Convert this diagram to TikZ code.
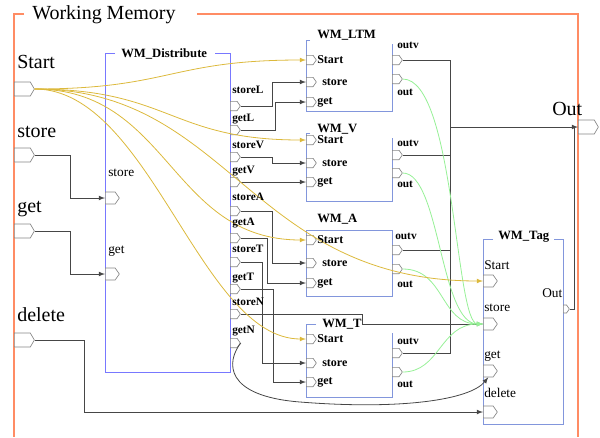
\documentclass[tikz,border=0pt]{standalone}
\usepackage{fontspec}
\setmainfont{Liberation Serif}
\usepackage{tikz}
\usetikzlibrary{shapes.symbols}
\definecolor{framecol}{RGB}{255,140,100}
\definecolor{distcol}{RGB}{120,120,255}
\definecolor{modcol}{RGB}{130,150,220}
\definecolor{portcol}{RGB}{135,135,135}
\definecolor{wirecol}{RGB}{70,70,70}
\definecolor{startcol}{RGB}{220,185,60}
\definecolor{outcol}{RGB}{150,240,150}

\begin{document}
\begin{tikzpicture}[x=0.75pt, y=-0.75pt, >=latex,
    port/.style={signal, signal to=east, signal pointer angle=110, draw=portcol, fill=white, line width=0.5pt, inner sep=0pt, minimum width=7.5pt, minimum height=7pt, anchor=west},
    midport/.style={port, minimum width=10.5pt, minimum height=9pt},
    bigport/.style={port, signal pointer angle=120, minimum width=15pt, minimum height=10.5pt},
    tinyport/.style={port, minimum width=4.5pt, minimum height=6pt},
    wire/.style={draw=wirecol, line width=0.6pt},
    startwire/.style={draw=startcol, line width=0.6pt},
    outwire/.style={draw=outcol, line width=0.6pt},
    biglbl/.style={font=\fontsize{15}{18}\selectfont, anchor=base west, inner sep=0pt},
    lbl/.style={font=\fontsize{10}{12}\selectfont, anchor=base west, inner sep=0pt},
    plbl/.style={font=\bfseries\fontsize{8.5}{10}\selectfont, anchor=base west, inner sep=0pt},
    mlbl/.style={font=\bfseries\fontsize{9}{10}\selectfont, anchor=west, inner sep=0pt},
    ttl/.style={font=\bfseries\fontsize{9.5}{11}\selectfont, anchor=base west, inner sep=0pt}]
    \useasboundingbox (0,0) rectangle (600,437);

    \draw[framecol, line width=0.8pt] (24,14) -- (14,14) -- (14,437);
    \draw[framecol, line width=0.8pt] (197,14) -- (578,14) -- (578,437);
    \draw[distcol, line width=0.7pt] (115,53) -- (105,53) -- (105,372) -- (230,372) -- (230,53) -- (215,53);
    \draw[modcol, line width=0.7pt] (310,40) -- (306,40) -- (306,111) -- (392,111) -- (392,44);
    \draw[modcol, line width=0.7pt] (310,133) -- (306,133) -- (306,201) -- (392,201) -- (392,138);
    \draw[modcol, line width=0.7pt] (306,230) rectangle (392,296);
    \draw[modcol, line width=0.7pt] (316,324) -- (306,324) -- (306,397) -- (392,397) -- (392,333);
    \draw[modcol, line width=0.7pt] (493,239) -- (483,239) -- (483,424) -- (563,424) -- (563,239) -- (554,239);

    \node[bigport] (start) at (14,89) {};
    \node[bigport] (store) at (14,155) {};
    \node[bigport] (get) at (14,231) {};
    \node[bigport] (delete) at (14,340) {};
    \node[bigport] (out) at (578,127) {};

    \node[midport] (distStore) at (105,198) {};
    \node[midport] (distGet) at (105,274) {};
    \node[port] (storeL) at (230,106) {};
    \node[port] (getL) at (230,130) {};
    \node[port] (storeV) at (230,157) {};
    \node[port] (getV) at (230,182) {};
    \node[port] (storeA) at (230,211) {};
    \node[port] (getA) at (230,238) {};
    \node[port] (storeT) at (230,262) {};
    \node[port] (getT) at (230,289) {};
    \node[port] (storeN) at (230,314) {};
    \node[port] (getN) at (230,343) {};

    \node[port] (ltmStart) at (306,60) {};
    \node[port] (ltmStore) at (306,82) {};
    \node[port] (ltmGet) at (306,102) {};
    \node[port] (ltmOutv) at (392,60) {};
    \node[port] (ltmOut) at (392,79) {};

    \node[port] (vStart) at (306,140) {};
    \node[port] (vStore) at (306,163) {};
    \node[port] (vGet) at (306,182) {};
    \node[port] (vOutv) at (392,155) {};
    \node[port] (vOut) at (392,173) {};

    \node[port] (aStart) at (306,240) {};
    \node[port] (aStore) at (306,263) {};
    \node[port] (aGet) at (306,283) {};
    \node[port] (aOutv) at (392,250) {};
    \node[port] (aOut) at (392,269) {};

    \node[port] (tStart) at (306,339) {};
    \node[port] (tStore) at (306,363) {};
    \node[port] (tGet) at (306,382) {};
    \node[port] (tOutv) at (392,353) {};
    \node[port] (tOut) at (392,372) {};

    \node[midport] (tagStart) at (483,281) {};
    \node[midport] (tagStore) at (483,324) {};
    \node[midport] (tagGet) at (483,371) {};
    \node[midport] (tagDelete) at (483,412) {};
    \node[tinyport] (tagOut) at (563,309) {};

    \coordinate (busTop) at (450,60);
    \coordinate (busOut) at (450,127);

    \draw[wire, ->] (store.east) -- ++(36,0) |- (distStore.west);
    \draw[wire, ->] (get.east) -- ++(36,0) |- (distGet.west);
    \draw[wire, ->] (delete.east) -- ++(50,0) |- (tagDelete.west);

    \draw[wire, ->] (storeL.east) -- ++(32,0) |- (ltmStore.west);
    \draw[wire, ->] (getL.east) -- ++(35,0) |- (ltmGet.west);
    \draw[wire, ->] (storeV.east) -- ++(32,0) |- (vStore.west);
    \draw[wire, ->] (getV.east) -- (vGet.west);
    \draw[wire, ->] (storeA.east) -- ++(32,0) |- (aStore.west);
    \draw[wire, ->] (getA.east) -- ++(27,0) |- (aGet.west);
    \draw[wire, ->] (storeT.east) -- ++(22,0) |- (tStore.west);
    \draw[wire, ->] (getT.east) -- ++(33,0) |- (tGet.west);
    \draw[wire, ->] (storeN.east) -- ++(122,0) |- (tagStore.west);
    \draw[wire, ->] (getN.east) .. controls (226,362) and (224,396) .. (300,402) .. controls (400,410) and (470,400) .. (tagGet.south);

    \draw[wire] (ltmOutv.east) -| (busTop |- tOutv.east) -- (tOutv.east);
    \draw[wire] (vOutv.east) -- (busTop |- vOutv.east);
    \draw[wire] (aOutv.east) -- (busTop |- aOutv.east);
    \draw[wire, ->] (busOut) -- (out.west);
    \draw[wire] (tagOut.east) -| ([xshift=-3pt]out.west);

    \draw[outwire, ->] (ltmOut.east) .. controls (455,79) and (455,324) .. (tagStore.west);
    \draw[outwire, ->] (vOut.east) .. controls (440,173) and (440,324) .. (tagStore.west);
    \draw[outwire, ->] (aOut.east) .. controls (445,269) and (440,324) .. (tagStore.west);
    \draw[outwire, ->] (tOut.east) .. controls (440,372) and (440,324) .. (tagStore.west);

    \draw[startwire, ->] (start.east) .. controls (170,89) and (170,60) .. (ltmStart.west);
    \draw[startwire, ->] (start.east) .. controls (170,89) and (170,140) .. (vStart.west);
    \draw[startwire, ->] (start.east) .. controls (170,89) and (170,240) .. (aStart.west);
    \draw[startwire, ->] (start.east) .. controls (150,89) and (200,339) .. (tStart.west);
    \draw[startwire, ->] (start.east) .. controls (230,89) and (250,281) .. (tagStart.west);

    \node[biglbl] (title) at (32,19.5) {Working Memory};
    \node[biglbl] (startLbl) at (17,68) {Start};
    \node[biglbl] (storeLbl) at (17,137) {store};
    \node[biglbl] (getLbl) at (17,212) {get};
    \node[biglbl] (deleteLbl) at (17,321) {delete};
    \node[biglbl] (outLbl) at (552,115) {Out};

    \node[ttl] (distTitle) at (121,57) {WM\_Distribute};
    \node[lbl] (distStoreLbl) at (108,176) {store};
    \node[lbl] (distGetLbl) at (108,253) {get};
    \node[plbl] (storeLLbl) at (232,93) {storeL};
    \node[plbl] (getLLbl) at (232,121) {getL};
    \node[plbl] (storeVLbl) at (232,148) {storeV};
    \node[plbl] (getVLbl) at (232,173) {getV};
    \node[plbl] (storeALbl) at (232,200) {storeA};
    \node[plbl] (getALbl) at (232,225) {getA};
    \node[plbl] (storeTLbl) at (232,252) {storeT};
    \node[plbl] (getTLbl) at (232,280) {getT};
    \node[plbl] (storeNLbl) at (232,305) {storeN};
    \node[plbl] (getNLbl) at (232,333) {getN};

    \node[ttl] (ltmTitle) at (317,38) {WM\_LTM};
    \node[mlbl] (ltmStartLbl) at (317,60) {Start};
    \node[mlbl] (ltmStoreLbl) at (322,82) {store};
    \node[mlbl] (ltmGetLbl) at (317,102) {get};
    \node[plbl] (ltmOutvLbl) at (397,48) {outv};
    \node[plbl] (ltmOutLbl) at (397,95) {out};

    \node[ttl] (vTitle) at (317,132) {WM\_V};
    \node[mlbl] (vStartLbl) at (317,140) {Start};
    \node[mlbl] (vStoreLbl) at (322,163) {store};
    \node[mlbl] (vGetLbl) at (317,182) {get};
    \node[plbl] (vOutvLbl) at (397,146) {outv};
    \node[plbl] (vOutLbl) at (397,187) {out};

    \node[ttl] (aTitle) at (317,222) {WM\_A};
    \node[mlbl] (aStartLbl) at (317,240) {Start};
    \node[mlbl] (aStoreLbl) at (322,263) {store};
    \node[mlbl] (aGetLbl) at (317,283) {get};
    \node[plbl] (aOutvLbl) at (395,239) {outv};
    \node[plbl] (aOutLbl) at (397,287) {out};

    \node[ttl] (tTitle) at (322,327) {WM\_T};
    \node[mlbl] (tStartLbl) at (317,339) {Start};
    \node[mlbl] (tStoreLbl) at (322,363) {store};
    \node[mlbl] (tGetLbl) at (317,382) {get};
    \node[plbl] (tOutvLbl) at (397,344) {outv};
    \node[plbl] (tOutLbl) at (397,387) {out};

    \node[ttl] (tagTitle) at (498,239) {WM\_Tag};
    \node[lbl] (tagStartLbl) at (484,269) {Start};
    \node[lbl] (tagStoreLbl) at (484,311) {store};
    \node[lbl] (tagGetLbl) at (484,358) {get};
    \node[lbl] (tagDeleteLbl) at (484,397) {delete};
    \node[lbl] (tagOutLbl) at (542,297) {Out};
\end{tikzpicture}
\end{document}
